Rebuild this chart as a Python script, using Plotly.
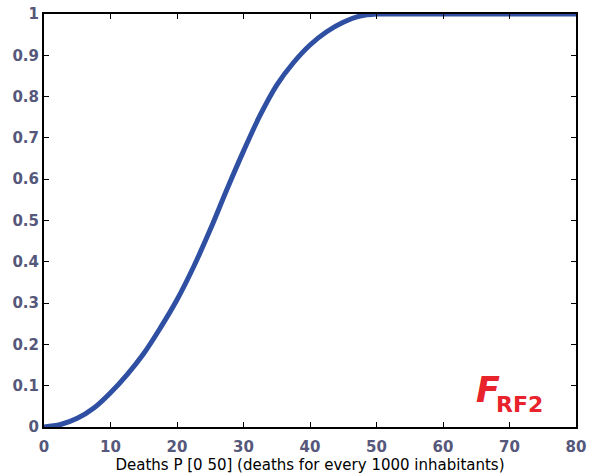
import plotly.graph_objects as go

# Data
deaths = [0, 2.5, 5, 7.5, 10, 12.5, 15, 17.5, 20, 22.5, 25, 27.5, 30, 32.5,
          35, 37.5, 40, 42.5, 45, 47.5, 50, 80]
membership = [0, 0.006, 0.021, 0.046, 0.083, 0.127, 0.178, 0.24, 0.308, 0.388,
              0.478, 0.575, 0.668, 0.755, 0.828, 0.882, 0.925, 0.957, 0.98, 0.995, 1, 1]

x_ticks = [0, 10, 20, 30, 40, 50, 60, 70, 80]
y_ticks = [0, 0.1, 0.2, 0.3, 0.4, 0.5, 0.6, 0.7, 0.8, 0.9, 1]
y_tick_text = ["0", "0.1", "0.2", "0.3", "0.4", "0.5", "0.6", "0.7", "0.8", "0.9", "1"]
x_title = "Deaths P [0 50] (deaths for every 1000 inhabitants)"

rise_end = deaths.index(50) + 1
line_style = dict(color="#2F4FA2", width=5)

fig = go.Figure()
fig.add_trace(go.Scatter(x=deaths[:rise_end], y=membership[:rise_end], mode="lines",
                         line=dict(**line_style, shape="spline", smoothing=1),
                         showlegend=False, hoverinfo="skip", cliponaxis=False))
fig.add_trace(go.Scatter(x=deaths[rise_end - 1:], y=membership[rise_end - 1:], mode="lines",
                         line=line_style, showlegend=False, hoverinfo="skip", cliponaxis=False))

tickfont = dict(family="DejaVu Sans", size=15, color="#55587A", weight="bold")
axis_common = dict(showgrid=False, zeroline=False, showline=True, linecolor="black",
                   linewidth=2, mirror="ticks", ticks="inside", ticklen=5,
                   tickcolor="black", tickwidth=1, tickfont=tickfont, automargin=False)

fig.update_xaxes(range=[0, 80], tickvals=x_ticks, ticklabelstandoff=5, **axis_common,
                 title=dict(text=x_title, standoff=0,
                            font=dict(family="DejaVu Sans", size=15, color="black")))
fig.update_yaxes(range=[0, 1], tickvals=y_ticks, ticktext=y_tick_text, **axis_common)

fig.add_annotation(x=66.8, y=0.089, xref="x", yref="y", text="<b><i>F</i></b>",
                   showarrow=False, xanchor="center", yanchor="middle",
                   font=dict(family="DejaVu Sans", size=35, color="#E8232B"))
fig.add_annotation(x=71.5, y=0.055, xref="x", yref="y", text="<b>RF2</b>",
                   showarrow=False, xanchor="center", yanchor="middle",
                   font=dict(family="DejaVu Sans", size=22, color="#E8232B"))

fig.update_layout(width=597, height=476, paper_bgcolor="white", plot_bgcolor="white",
                  margin=dict(l=44, r=21, t=14, b=49))

fig.write_html("out.html")
